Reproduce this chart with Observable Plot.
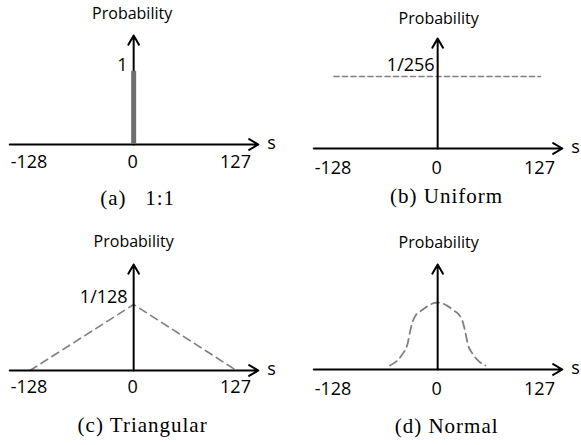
<!DOCTYPE html>
<html><head><meta charset="utf-8">
<script src="https://cdn.jsdelivr.net/npm/d3@7"></script>
<script src="https://cdn.jsdelivr.net/npm/@observablehq/plot@0.6"></script>
<style>
body{margin:0;background:#fff;}
#fig{position:relative;width:581px;height:445px;overflow:hidden;background:#fff;}
.panel{position:absolute;}
</style></head><body><div id="fig"></div>
<script>
// ---- data ----
const sTicks = [-128, 0, 127];
const sTickLabels = ["-128", "0", "127"];
const axisTitle = "Probability";
const sTitle = "s";
const captions = ["(a)   1:1", "(b) Uniform", "(c) Triangular", "(d) Normal"];
const sAxisExtent = [-153, 154];

// (a) 1:1
const oneS = [0];
const oneP = [1];
const oneLabel = "1";
// (b) Uniform
const uniS = [-128, 127];
const uniP = [1 / 256, 1 / 256];
const uniLabel = "1/256";
// (c) Triangular
const triS = [-128, 0, 127];
const triP = [0, 1 / 128, 0];
const triLabel = "1/128";
// (d) Normal (height relative to the peak)
const normS = [-59, -51, -44, -37, -34.5, -31, -27, -20, -12, -5, 0, 5, 12, 20, 27, 31, 34.5, 37, 44, 51, 59];
const normP = [0.06, 0.12, 0.22, 0.39, 0.54, 0.71, 0.81, 0.88, 0.95, 0.99, 1, 0.99, 0.95, 0.88, 0.81, 0.71, 0.54, 0.39, 0.22, 0.12, 0.06];

const rows = (s, p) => s.map((v, i) => ({s: v, p: p[i]}));
const sans = {fontFamily: "Open Sans", lineAnchor: "bottom"};
const dashColor = "#808080";

function panel(cfg) {
  const top = cfg.peak * (cfg.axisY - cfg.tipY) / (cfg.axisY - cfg.peakY);
  const marks = [
    ...cfg.pre,
    Plot.arrow([0], {x1: sAxisExtent[0], x2: sAxisExtent[1], y1: 0, y2: 0, stroke: "#000", strokeWidth: 2}),
    Plot.arrow([0], {x1: 0, x2: 0, y1: 0, y2: top, stroke: "#000", strokeWidth: 2}),
    ...cfg.post,
    Plot.text(sTicks, {x: d => d, y: 0, text: (d, i) => sTickLabels[i], dx: -1, dy: cfg.tickDy, fontSize: 18, ...sans}),
    Plot.text([sTitle], {x: sAxisExtent[1], y: 0, text: d => d, dx: 9, dy: 4, textAnchor: "start", fontSize: 18, ...sans}),
    Plot.text([axisTitle], {x: 0, y: top, text: d => d, dx: cfg.titleDx, dy: cfg.titleDy, fontSize: 16, ...sans}),
    Plot.text([cfg.caption], {x: 0, y: 0, text: d => d, dx: cfg.capDx, dy: cfg.capDy, fontSize: 21, fontFamily: "Liberation Serif", lineAnchor: "bottom"})
  ];
  if (cfg.label) marks.push(Plot.text([cfg.label], {x: 0, y: cfg.peak, text: d => d, dx: cfg.labelDx, dy: cfg.labelDy, textAnchor: "end", fontSize: 18, ...sans}));
  const svg = Plot.plot({
    width: cfg.width, height: cfg.height,
    margin: 0,
    x: {axis: null, domain: [-128, 127], range: [29.5, 236]},
    y: {axis: null, domain: [0, top], range: [cfg.axisY, cfg.tipY]},
    style: {background: "transparent", overflow: "visible"},
    marks
  });
  d3.select(svg).selectAll('g[font-family="Liberation Serif"] text')
    .attr("letter-spacing", "1px").style("white-space", "pre");
  const div = document.createElement("div");
  div.className = "panel";
  div.style.left = cfg.left + "px";
  div.style.top = cfg.topPx + "px";
  div.appendChild(svg);
  document.getElementById("fig").appendChild(div);
}

panel({
  left: 0, topPx: 0, width: 290, height: 222,
  axisY: 144, tipY: 35, peakY: 70.8, peak: oneP[0],
  pre: [],
  post: [Plot.ruleX(oneS, {x: d => d, y1: 0, y2: (d, i) => oneP[i], stroke: "#6e6e6e", strokeWidth: 5})],
  label: oneLabel, labelDx: -6, labelDy: 0,
  tickDy: 23, titleDx: -1.5, titleDy: -16.5, caption: captions[0], capDx: 4, capDy: 60
});
panel({
  left: 304, topPx: 0, width: 277, height: 222,
  axisY: 148, tipY: 38, peakY: 76, peak: uniP[0],
  pre: [Plot.line(rows(uniS, uniP), {x: "s", y: "p", stroke: dashColor, strokeWidth: 1.6, strokeDasharray: "5,3.5"})],
  post: [],
  label: uniLabel, labelDx: -3, labelDy: -6,
  tickDy: 25, titleDx: 1, titleDy: -15, caption: captions[1], capDx: 9, capDy: 54
});
panel({
  left: 0, topPx: 222, width: 290, height: 223,
  axisY: 148, tipY: 42, peakY: 82, peak: triP[1],
  pre: [Plot.line(rows(triS, triP), {x: "s", y: "p", stroke: dashColor, strokeWidth: 1.6, strokeDasharray: "8,5"})],
  post: [],
  label: triLabel, labelDx: -6, labelDy: -2,
  tickDy: 22, titleDx: 0, titleDy: -18, caption: captions[2], capDx: 9, capDy: 61
});
panel({
  left: 304, topPx: 222, width: 277, height: 223,
  axisY: 147, tipY: 42, peakY: 80, peak: 1,
  pre: [Plot.line(rows(normS, normP), {x: "s", y: "p", stroke: dashColor, strokeWidth: 1.8, strokeDasharray: "8,5", curve: "monotone-x"})],
  post: [],
  label: null,
  tickDy: 25, titleDx: 1, titleDy: -17, caption: captions[3], capDx: 9, capDy: 63
});
</script></body></html>
